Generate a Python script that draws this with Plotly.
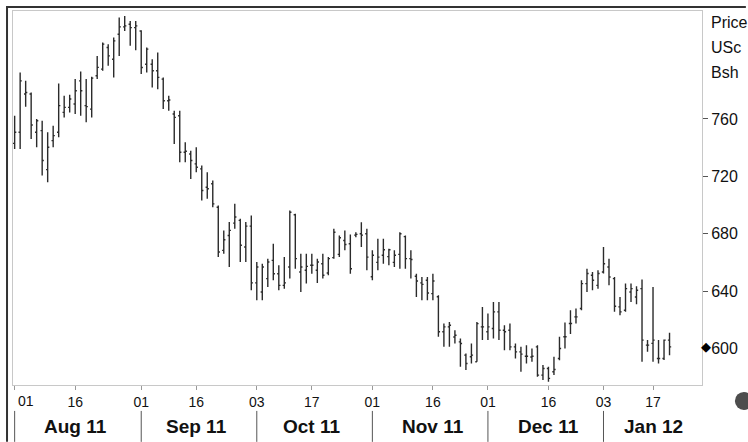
import pandas as pd
import plotly.graph_objects as go

# ---- data ----
holidays = ['2011-09-05', '2011-11-24', '2011-12-26', '2012-01-02', '2012-01-16']
dates = [d.strftime('%Y-%m-%d') for d in pd.bdate_range('2011-08-01', '2012-01-20')
         if d.strftime('%Y-%m-%d') not in holidays]

opens = [743, 750.7, 777.4, 777.4, 750.7, 751.9, 724.7, 744.9, 750.7, 764.6,
         768.1, 770.4, 786.6, 769.3, 766.9, 790.1, 794.8, 809.8, 801.7, 819.1,
         824.2, 826.1, 823.7, 821.4, 798.2, 798.2, 793.6, 787.8, 772.7, 763.5,
         762.3, 736.8, 735.6, 728.7, 725.2, 712.4, 714.8, 698.5, 668.4, 678.8,
         687.4, 689.3, 670.7, 685.3, 645.7, 639.4, 648.7, 661.4, 652.1, 644,
         656.8, 693.2, 653.3, 654.5, 658, 654.5, 659.1, 652.6, 663.3, 665.6,
         675.3, 673, 679, 680, 680, 650, 660, 665, 664, 660,
         665.6, 678, 662.6, 650.3, 645.7, 647.5, 638.2, 636, 611.6, 615,
         608, 604.6, 595.3, 594.2, 590.7, 615, 611.6, 613.9, 625.5, 612.7,
         612.7, 601.1, 597.6, 594.6, 594, 601.1, 581.4, 586, 583.7, 593,
         608.1, 617.4, 622, 627.8, 645.2, 651, 644, 653.3, 656.8, 648.7,
         629, 626.6, 639.4, 635.9, 641.7, 602.3, 603.5, 593, 593, 605.8]
highs = [762.3, 792.4, 786.6, 778.5, 760, 758.8, 750.7, 755.3, 784.8, 776.2,
         776.9, 787.8, 793.1, 787.8, 789.4, 804, 813.3, 812.2, 816.8, 830.7,
         831.9, 828.4, 828.4, 821.9, 809.8, 801.7, 806.4, 789, 776.2, 765.8,
         765.8, 743.7, 737.9, 740.3, 727.5, 722.9, 717.1, 699.7, 682.3, 688.1,
         700.9, 690.4, 688.1, 692.7, 660.3, 659.1, 662.6, 673, 658, 663.7,
         696.2, 693.9, 666.1, 666.1, 666.1, 662.6, 666.1, 663.7, 683.5, 678.8,
         682.3, 679.5, 681, 688, 683.5, 668.4, 676.5, 676.5, 669.5, 668.4,
         681.1, 678.8, 668.4, 652.1, 649.8, 649.8, 652.1, 637.1, 617.3, 618.5,
         612.7, 606.9, 596.5, 603.4, 618.5, 628.9, 624.3, 632.4, 632.4, 616.2,
         617.4, 603.4, 601.1, 602.3, 600, 602.3, 588.4, 587.2, 594.2, 608.1,
         618, 626.6, 627.8, 647.5, 655.6, 653.3, 654.5, 670.7, 662.6, 649.8,
         635.9, 645.2, 645.2, 643.3, 648, 605.8, 642.9, 605.8, 606.2, 610.9]
lows = [739.1, 739.1, 768.6, 746.1, 740.3, 720.6, 715.9, 740.3, 747.2, 761.1,
        764.6, 763.5, 762.3, 757.7, 761.1, 787.8, 793.6, 797.1, 789, 804,
        821.4, 811, 808, 791.3, 792.4, 782, 780.8, 767, 765.8, 742.6,
        729.8, 729.8, 718.2, 722.9, 703.2, 704.3, 698.5, 663.7, 666.1, 656.8,
        683.5, 660.3, 660.3, 640.6, 633.6, 633.6, 642.9, 647.5, 640.6, 641.7,
        648.7, 655.6, 639.4, 645.2, 652.1, 645.7, 648.7, 651, 662.6, 663.7,
        668.4, 652.1, 677.5, 670.7, 654.5, 647.5, 654.5, 659.1, 658, 656.8,
        655.6, 655.6, 648.7, 635.9, 633.6, 633.6, 633.6, 608.1, 601.1, 601.1,
        603.4, 587.2, 584.9, 589.5, 590.7, 605.8, 605.8, 606.9, 605.8, 598.8,
        598.8, 593, 583.7, 589.5, 590.7, 580.3, 577.9, 576.8, 581.4, 591.8,
        600, 610, 617.4, 626.6, 639.4, 640.6, 641.7, 652.2, 644, 625.5,
        623.2, 625.5, 632.4, 630.8, 590.7, 597.7, 590.7, 589.5, 591.9, 595.3]
closes = [750.7, 786.6, 778.5, 755.8, 758.8, 731, 740.3, 748.4, 769.3, 768.1,
          773.9, 779.7, 779.7, 768.6, 788.5, 796, 812.2, 804, 814.5, 824.2,
          824.9, 823.7, 824.9, 795.9, 808.7, 793.6, 789, 772.7, 773.2, 761.1,
          736.8, 737.5, 731, 726.3, 710.1, 711.3, 700.8, 667.2, 675.8, 682.3,
          691.6, 671.9, 685.3, 645.7, 656.8, 656.8, 660.3, 652.1, 644, 645.7,
          695, 662.6, 656.8, 657.2, 658, 660.3, 651, 662.6, 681, 677.2,
          672.5, 655.6, 679.5, 679, 663.7, 665, 663.7, 668.8, 668.8, 665,
          680, 662.6, 662, 647, 644.7, 638.7, 647, 611.6, 615, 616.2,
          609.2, 603.4, 589.5, 595.3, 617.3, 615, 615, 625.5, 612.7, 611.6,
          601.1, 597.6, 596, 594.6, 594.6, 581.4, 586, 579.1, 585.3, 600,
          608.1, 617.4, 622, 645.2, 652.2, 647.5, 652.2, 659.1, 649.8, 629.4,
          625.5, 641.7, 641.7, 640.6, 605.8, 602.3, 605.8, 593, 605.8, 601.1]

tick_dates = ['2011-08-01', '2011-08-16', '2011-09-01', '2011-09-16', '2011-10-03', '2011-10-17',
              '2011-11-01', '2011-11-16', '2011-12-01', '2011-12-16', '2012-01-03', '2012-01-17']
tick_labels = ['01', '16', '01', '16', '03', '17', '01', '16', '01', '16', '03', '17']
month_starts = ['2011-08-01', '2011-09-01', '2011-10-03', '2011-11-01', '2011-12-01', '2012-01-03']
month_mids = ['2011-08-16', '2011-09-16', '2011-10-17', '2011-11-16', '2011-12-16', '2012-01-17']
month_labels = ['Aug 11', 'Sep 11', 'Oct 11', 'Nov 11', 'Dec 11', 'Jan 12']
y_ticks = [600, 640, 680, 720, 760]
unit_lines = ['Price', 'USc', 'Bsh']

FONT = 'Liberation Sans, Arial, sans-serif'
BAR = '#2b2b2b'

fig = go.Figure(go.Ohlc(
    x=dates, open=opens, high=highs, low=lows, close=closes,
    increasing=dict(line=dict(color=BAR, width=1.4)),
    decreasing=dict(line=dict(color=BAR, width=1.4)),
    tickwidth=0.3, hoverinfo='skip', showlegend=False,
))

W, H = 748, 442
plot_left, plot_right, plot_top, plot_bottom = 13, 704, 10, 385   # window pixels
ml, mr, mt, mb = plot_left, W - plot_right, plot_top, H - plot_bottom
pw, ph = plot_right - plot_left, plot_bottom - plot_top

def px_x(x):
    return (x - plot_left) / pw

def px_y(y):
    return (plot_bottom - y) / ph

# first day label is drawn left-aligned by an annotation (as in the reference)
shown_labels = [''] + tick_labels[1:]

fig.update_layout(
    width=W, height=H,
    margin=dict(l=ml, r=mr, t=mt, b=mb),
    paper_bgcolor='white', plot_bgcolor='white',
    font=dict(family=FONT, size=14, color='#111'),
    xaxis=dict(type='category', range=[-0.3, 124.9], rangeslider=dict(visible=False),
               tickmode='array', tickvals=tick_dates, ticktext=shown_labels,
               ticks='outside', ticklen=4, tickcolor='#999', showgrid=False,
               showline=True, linecolor='#c8c8c8', linewidth=1, mirror=True,
               tickfont=dict(size=14, color='#111'), zeroline=False),
    yaxis=dict(side='right', range=[574.5, 835.3], tickmode='array', tickvals=y_ticks,
               ticks='outside', ticklen=5, tickcolor='#555', showgrid=False,
               showline=True, linecolor='#c8c8c8', linewidth=1, mirror=True,
               tickfont=dict(size=16, color='#111'), zeroline=False),
)

shapes = []
for d in month_starts:
    shapes.append(dict(type='line', xref='x', yref='paper', x0=d, x1=d,
                       y0=px_y(411), y1=px_y(442), line=dict(color='#555', width=1)))
# outer dark frame (left and top)
shapes.append(dict(type='line', xref='paper', yref='paper', x0=px_x(7), x1=px_x(7),
                   y0=px_y(6), y1=px_y(442), line=dict(color='#333', width=2)))
shapes.append(dict(type='line', xref='paper', yref='paper', x0=px_x(6), x1=px_x(748),
                   y0=px_y(6), y1=px_y(6), line=dict(color='#333', width=2)))
# corner circle
shapes.append(dict(type='circle', xref='paper', yref='paper', x0=px_x(737), x1=px_x(755),
                   y0=px_y(392), y1=px_y(410), fillcolor='#4d4d4d', line=dict(width=0)))
fig.update_layout(shapes=shapes)

annotations = [dict(x=tick_dates[0], xref='x', y=px_y(401), yref='paper', text=tick_labels[0],
                    showarrow=False, xanchor='left', yanchor='middle', xshift=1,
                    font=dict(size=14, color='#111'))]
for d, lab in zip(month_mids, month_labels):
    annotations.append(dict(x=d, xref='x', y=px_y(427), yref='paper', text='<b>%s</b>' % lab,
                            showarrow=False, font=dict(size=19, color='#111'),
                            xanchor='center', yanchor='middle'))
for k, t in enumerate(unit_lines):
    annotations.append(dict(x=1, xref='paper', y=px_y(22 + 25 * k), yref='paper', text=t,
                            showarrow=False, xanchor='left', yanchor='middle', xshift=7,
                            font=dict(size=16, color='#111')))
annotations.append(dict(x=1, xref='paper', y=closes[-1], yref='y', text='\u25c6',
                        showarrow=False, xanchor='center', yanchor='middle', xshift=4,
                        font=dict(size=13, color='#000')))
fig.update_layout(annotations=annotations)

fig.write_html('out.html', config={'displayModeBar': False, 'staticPlot': True},
               post_script="document.body.style.margin='0';document.body.style.overflow='hidden';")
